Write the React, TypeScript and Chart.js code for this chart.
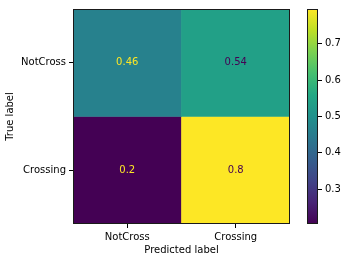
import React, { useEffect, useRef } from "react";
import { Chart, registerables } from "chart.js";

Chart.register(...registerables);

// ---- data ----
const predictedLabels = ["NotCross", "Crossing"];
const trueLabels = ["NotCross", "Crossing"];
const rowNotCross = [0.4615, 0.5385];
const rowCrossing = [0.2045, 0.7955];
const colorbarTicks = [0.3, 0.4, 0.5, 0.6, 0.7];

const rows = [rowNotCross, rowCrossing];
const allValues = rows.flat();
const vmin = Math.min(...allValues);
const vmax = Math.max(...allValues);

// viridis colormap stops
const VIRIDIS = [
  "#440154", "#482475", "#414487", "#355f8d", "#2a788e", "#21918c",
  "#22a884", "#44bf70", "#7ad151", "#bddf26", "#fde725",
];

function hexToRgb(h: string) {
  const n = parseInt(h.slice(1), 16);
  return [(n >> 16) & 255, (n >> 8) & 255, n & 255];
}

function viridis(t: number) {
  const tt = Math.max(0, Math.min(1, t));
  const pos = tt * (VIRIDIS.length - 1);
  const i = Math.min(VIRIDIS.length - 2, Math.floor(pos));
  const f = pos - i;
  const a = hexToRgb(VIRIDIS[i]);
  const b = hexToRgb(VIRIDIS[i + 1]);
  const c = a.map((v, k) => Math.round(v + (b[k] - v) * f));
  return `rgb(${c[0]},${c[1]},${c[2]})`;
}

const norm = (v: number) => (v - vmin) / (vmax - vmin);
const fmt = (v: number) => String(Number(v.toPrecision(2)));

const FONT = "DejaVu Sans";
const AXIS_COLOR = "#000";

const framePlugin = {
  id: "frame",
  afterDraw(chart: any) {
    const { ctx, chartArea: a } = chart;
    ctx.save();
    ctx.strokeStyle = "#1a1a1a";
    ctx.lineWidth = 1;
    ctx.strokeRect(Math.round(a.left) + 0.5, Math.round(a.top) + 0.5, Math.round(a.right - a.left) - 1, Math.round(a.bottom - a.top) - 1);
    ctx.restore();
  },
};

const cellTextPlugin = {
  id: "cellText",
  afterDatasetsDraw(chart: any) {
    const { ctx } = chart;
    const thresh = (vmin + vmax) / 2;
    ctx.save();
    ctx.font = `10px "${FONT}"`;
    ctx.textAlign = "center";
    ctx.textBaseline = "middle";
    chart.data.datasets.forEach((ds: any, di: number) => {
      const meta = chart.getDatasetMeta(di);
      meta.data.forEach((el: any, j: number) => {
        const v = ds.values[j];
        ctx.fillStyle = v < thresh ? viridis(1) : viridis(0);
        ctx.fillText(fmt(v), el.x, (el.y + el.base) / 2);
      });
    });
    ctx.restore();
  },
};

export default function App() {
  const mainRef = useRef<HTMLCanvasElement>(null);
  const cbRef = useRef<HTMLCanvasElement>(null);

  useEffect(() => {
    Chart.defaults.font.family = FONT;
    Chart.defaults.font.size = 10;
    Chart.defaults.color = AXIS_COLOR;

    const n = trueLabels.length;
    const main = new Chart(mainRef.current!, {
      type: "bar",
      data: {
        labels: predictedLabels,
        datasets: rows.map((row, i) => ({
          label: trueLabels[i],
          values: row,
          data: row.map(() => [n - 1 - i, n - i]),
          backgroundColor: row.map((v) => viridis(norm(v))),
          borderWidth: 0,
          categoryPercentage: 1,
          barPercentage: 1,
          grouped: false,
        })) as any,
      },
      options: {
        animation: false,
        responsive: false,
        maintainAspectRatio: false,
        layout: { padding: { left: 0, top: 6, right: 10, bottom: 0 } },
        plugins: { legend: { display: false }, tooltip: { enabled: false } },
        scales: {
          x: {
            type: "category",
            offset: true,
            grid: { offset: false, drawOnChartArea: false, drawTicks: true, tickLength: 4, tickColor: AXIS_COLOR },
            border: { display: false },
            ticks: { padding: 3, color: AXIS_COLOR, maxRotation: 0 },
            title: { display: true, text: "Predicted label", color: AXIS_COLOR, padding: { top: 0, bottom: 6 } },
            afterFit: (s: any) => { s.height = 38; },
          },
          y: {
            type: "linear",
            min: 0,
            max: n,
            grid: { drawOnChartArea: false, drawTicks: true, tickLength: 4, tickColor: AXIS_COLOR },
            border: { display: false },
            afterBuildTicks: (s: any) => {
              s.ticks = trueLabels.map((_, i) => ({ value: i + 0.5 }));
            },
            ticks: {
              padding: 3,
              color: AXIS_COLOR,
              callback: (value: any) => trueLabels[n - 1 - Math.floor(Number(value))],
            },
            title: { display: true, text: "True label", color: AXIS_COLOR, padding: { top: 4, bottom: 0 } },
            afterFit: (s: any) => { s.width = 73; },
          },
        },
      } as any,
      plugins: [cellTextPlugin, framePlugin],
    });

    const cb = new Chart(cbRef.current!, {
      type: "bar",
      data: {
        labels: [""],
        datasets: [
          {
            data: [[vmin, vmax]] as any,
            backgroundColor: (c: any) => {
              const a = c.chart.chartArea;
              if (!a) return "#000";
              const g = c.chart.ctx.createLinearGradient(0, a.bottom, 0, a.top);
              VIRIDIS.forEach((col, i) => g.addColorStop(i / (VIRIDIS.length - 1), col));
              return g;
            },
            borderWidth: 0,
            categoryPercentage: 1,
            barPercentage: 1,
          },
        ],
      },
      options: {
        animation: false,
        responsive: false,
        maintainAspectRatio: false,
        layout: { padding: { left: 7, top: 6, right: 0, bottom: 38 } },
        plugins: { legend: { display: false }, tooltip: { enabled: false } },
        scales: {
          x: { display: false },
          y: {
            type: "linear",
            position: "right",
            min: vmin,
            max: vmax,
            grid: { drawOnChartArea: false, drawTicks: true, tickLength: 4, tickColor: AXIS_COLOR },
            border: { display: false },
            afterBuildTicks: (s: any) => {
              s.ticks = colorbarTicks.map((v) => ({ value: v }));
            },
            ticks: { padding: 3, color: AXIS_COLOR, callback: (v: any) => Number(v).toFixed(1) },
            afterFit: (s: any) => { s.width = 29; },
          },
        },
      } as any,
      plugins: [framePlugin],
    });

    return () => {
      main.destroy();
      cb.destroy();
    };
  }, []);

  return (
    <div style={{ position: "fixed", left: 0, top: 0, width: 347, height: 262, background: "#fff" }}>
      <canvas ref={mainRef} width={300} height={262} style={{ position: "absolute", left: 0, top: 0 }} />
      <canvas ref={cbRef} width={47} height={262} style={{ position: "absolute", left: 300, top: 0 }} />
    </div>
  );
}
